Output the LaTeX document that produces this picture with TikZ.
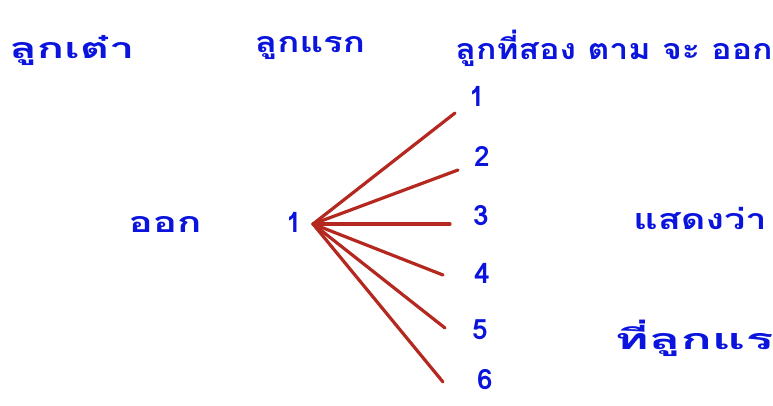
\documentclass[tikz,border=0pt]{standalone}
\usepackage{fontspec}
\usepackage{graphicx}
\newfontfamily\thaifont[Script=Thai]{Loma}
\definecolor{inkblue}{RGB}{10,20,220}
\definecolor{inkred}{RGB}{180,40,32}
\newcommand{\hw}[2]{\scalebox{#1}[1.1]{#2}}
\begin{document}
\begin{tikzpicture}[x=1pt,y=-1pt,
  lbl/.style={text=inkblue,font=\thaifont\bfseries\fontsize{26}{30}\selectfont,inner sep=0pt,anchor=center},
  num/.style={text=inkblue,font=\thaifont\bfseries\fontsize{28}{32}\selectfont,inner sep=0pt},
  ray/.style={draw=inkred,line width=3.2pt,line cap=round}]
\useasboundingbox (0,0) rectangle (773,405);
\node[lbl] (dice) at (72,50) {\hw{1.74}{ลูกเต๋า}};
\node[lbl] (first) at (310,48) {\hw{1.41}{ลูกแรก}};
\node[lbl] (second) at (614,48) {\hw{1.3}{ลูกที่สอง ตาม จะ ออก}};
\node[lbl] (out) at (165,224) {\hw{1.55}{ออก}};
\node[num] (one) at (294,222) {1};
\coordinate (hub) at (313,224);
\node[num] (n1) at (477,96) {1};
\node[num] (n2) at (482,156) {2};
\node[num] (n3) at (481,216) {3};
\node[num] (n4) at (482,273) {4};
\node[num] (n5) at (480,330) {5};
\node[num] (n6) at (485,380) {6};
\coordinate (e1) at (455,113);
\coordinate (e2) at (458,170);
\coordinate (e3) at (450,224);
\coordinate (e4) at (443,275);
\coordinate (e5) at (445,328);
\coordinate (e6) at (443,382);
\foreach \i in {1,...,6} \draw[ray] (hub) -- (e\i);
\node[lbl] (means) at (700,218) {\hw{1.46}{แสดงว่า}};
\node[lbl] (iffirst) at (694,338) {\hw{2.0}{ที่ลูกแร}};
\end{tikzpicture}
\end{document}
